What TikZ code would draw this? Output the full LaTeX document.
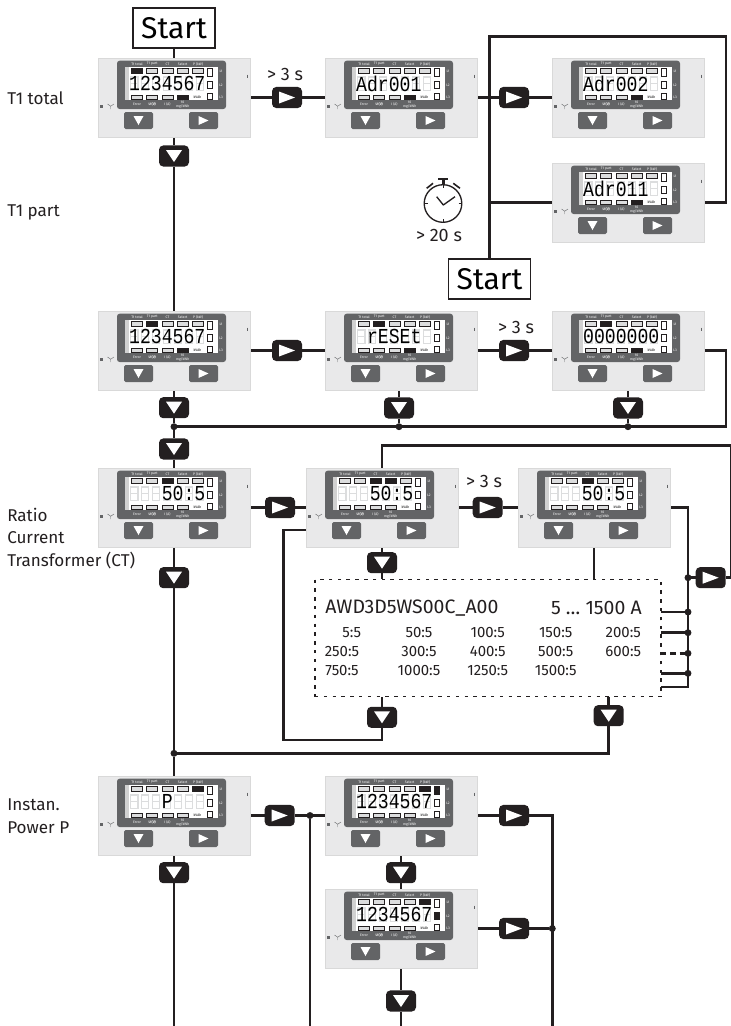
\documentclass[tikz,border=0pt]{standalone}
\usepackage{fontspec}
\setmainfont{Fira Sans}
\newfontfamily\segfont{Liberation Mono}
\pgfdeclarelayer{bg}
\pgfsetlayers{bg,main}
\definecolor{ink}{HTML}{231F20}
\definecolor{scr}{HTML}{636466}
\definecolor{pan}{HTML}{E9E9EA}
\definecolor{ghost}{HTML}{DCDDDE}
\tikzset{
  x=0.75pt,y=-0.75pt,
  panel/.style={rectangle,draw=black!15,fill=pan,line width=.5pt,minimum width=114pt,minimum height=59.25pt,inner sep=0,outer sep=0},
  conn/.style={line width=2.2pt,draw=ink,line join=miter},
  rbtn/.style={rectangle,rounded corners=3.2pt,fill=ink,minimum width=22.5pt,minimum height=15.8pt,inner sep=0,outer sep=0,
    path picture={\fill[white,sharp corners,shift={(path picture bounding box.center)}] (-8,-6) -- (8,0) -- (-8,6) -- cycle;}},
  dbtn/.style={rectangle,rounded corners=3.2pt,fill=ink,minimum width=22.5pt,minimum height=15.8pt,inner sep=0,outer sep=0,
    path picture={\fill[white,sharp corners,shift={(path picture bounding box.center)}] (-8,-6) -- (8,-6) -- (0,6) -- cycle;}},
  grb/.style={rectangle,rounded corners=1.2pt,fill=scr,minimum width=21.75pt,minimum height=12.75pt,inner sep=0,outer sep=0,
    path picture={\fill[white,sharp corners,shift={(path picture bounding box.center)}] (-5,-4.5) -- (5,0) -- (-5,4.5) -- cycle;}},
  gdb/.style={rectangle,rounded corners=1.2pt,fill=scr,minimum width=21.75pt,minimum height=12.75pt,inner sep=0,outer sep=0,
    path picture={\fill[white,sharp corners,shift={(path picture bounding box.center)}] (-5,-4.5) -- (5,-4.5) -- (0,4.5) -- cycle;}},
  startbox/.style={rectangle,draw=ink,fill=white,line width=1.3pt,minimum width=61.5pt,minimum height=30.5pt,inner sep=0,font=\fontsize{22.5}{24}\selectfont},
  dot/.style={circle,fill=ink,minimum size=5.2pt,inner sep=0,outer sep=0},
  label/.style={anchor=west,inner sep=0,font=\fontsize{12.8}{16.9}\selectfont,text=ink,align=left},
  wait/.style={inner sep=0,font=\fontsize{13.5}{14}\selectfont,text=ink},
  ratio/.style={inner sep=0,font=\fontsize{11.2}{12}\selectfont,text=ink},
  head/.style={inner sep=0,font=\fontsize{14.6}{15}\selectfont,text=ink},
  mini/.style={inner sep=0,font=\fontsize{2.6}{2.6}\selectfont},
  seg/.style={inner sep=0,anchor=west,text=black,font=\segfont\fontsize{16}{16}\selectfont},
  ind/.style={draw=ink,fill=ghost,line width=.55pt},
}
% name, x, y, lit top, lit bottom, lit L (1-3, 9 none), first digit index, text
\newcommand{\dev}[8]{%
  \node[panel,anchor=north west] (#1) at (#2,#3) {};
  \begin{scope}[shift={(#2,#3)}]
    \fill[scr,rounded corners=2pt] (19,2.7) rectangle (128,51);
    \fill[white] (27,9) rectangle (120,42);
    \fill[black!18] (27,9) rectangle (31,42);
    \foreach \i in {0,...,6}{
      \pgfmathsetmacro\gx{36.3+10.9*\i}
      \draw[ghost,line width=.9pt] (\gx-3.6,19) rectangle (\gx+3.6,32.5) (\gx-3.6,25.7) -- (\gx+3.6,25.7);
    }
    \foreach \i in {0,...,4}{
      \pgfmathsetmacro\gx{39+15.25*\i}
      \draw[ind] (\gx-5.5,10.5) rectangle (\gx+5.5,15.5);
    }
    \foreach \i in {0,...,3}{
      \pgfmathsetmacro\gx{39+15.25*\i}
      \draw[ind] (\gx-5.5,37) rectangle (\gx+5.5,41.5);
    }
    \foreach \i in {#4}{\ifnum\i<5 \pgfmathsetmacro\gx{39+15.25*\i}\fill[ink] (\gx-5.7,10.3) rectangle (\gx+5.7,15.7);\fi}
    \foreach \i in {#5}{\ifnum\i<5 \pgfmathsetmacro\gx{39+15.25*\i}\fill[ink] (\gx-5.7,36.8) rectangle (\gx+5.7,41.7);\fi}
    \draw[ink,fill=white,line width=.55pt] (109.5,10.5) rectangle (114.5,18);
    \draw[ink,fill=white,line width=.55pt] (109.5,23) rectangle (114.5,30.5);
    \draw[ink,fill=white,line width=.55pt] (109.5,35) rectangle (114.5,41);
    \ifnum#6=1 \fill[ink] (109.5,10.5) rectangle (114.5,18);\fi
    \ifnum#6=2 \fill[ink] (109.5,23) rectangle (114.5,30.5);\fi
    \pgfmathsetmacro\sx{36.3+10.9*#7-5.45}
    \node[seg] (#1txt) at (\sx,25.7) {\scalebox{0.851}[1]{#8}};
    \node[mini,text=white] (#1a) at (39,5.8) {T1 total};
    \node[mini,text=white] (#1b) at (54.2,5.8) {T1 part};
    \node[mini,text=white] (#1c) at (69.5,5.8) {CT};
    \node[mini,text=white] (#1d) at (84.7,5.8) {Select};
    \node[mini,text=white] (#1e) at (100,5.8) {P (kW)};
    \node[mini,text=white] (#1f) at (39,46.5) {Error};
    \node[mini,text=white] (#1g) at (54.2,46.5) {\textbf{U (V)}};
    \node[mini,text=white] (#1h) at (69.5,46.5) {I (A)};
    \node[mini,text=white,align=center] (#1i) at (84.7,46.5) {10\\mg/kWh};
    \node[mini,text=black] (#1j) at (99.5,39.2) {kVAh};
    \node[mini,text=white] (#1k) at (123,13.7) {L1};
    \node[mini,text=white] (#1l) at (123,27) {L2};
    \node[mini,text=white] (#1m) at (123,39) {L3};
    \node[gdb] (#1bl) at (40.5,62.5) {};
    \node[grb] (#1br) at (105.5,62.5) {};
    \fill[scr] (2.2,46.8) rectangle (5.2,49.8);
    \draw[scr,line width=.3pt] (9.5,46) -- (12.7,48.2) -- (16,46) (12.7,48.2) -- (12.7,51);
    \draw[scr,line width=.4pt] (149,16.5) -- (149,19.5);
  \end{scope}
}
\begin{document}
\begin{tikzpicture}
\useasboundingbox (0,0) rectangle (731,1026);
% devices
\dev{d1}{98}{58}{0}{3}{9}{0}{1234567}
\dev{d2}{325}{58}{9}{3}{9}{0}{Adr001}
\dev{d3}{552}{58}{9}{3}{9}{0}{Adr002}
\dev{d4}{552}{163}{9}{3}{9}{0}{Adr011}
\dev{d5}{98}{311}{1}{3}{9}{0}{1234567}
\dev{d6}{325}{311}{1}{3}{9}{1}{rESEt}
\dev{d7}{552}{311}{1}{3}{9}{0}{0000000}
\dev{d8}{98}{468}{2}{9}{9}{3}{50:5}
\dev{d9}{306}{468}{2,3}{9}{9}{3}{50:5}
\dev{d10}{518}{468}{2}{9}{9}{3}{50:5}
\dev{d11}{98}{776}{4}{9}{9}{3}{P}
\dev{d12}{325}{776}{4}{9}{1}{0}{1234567}
\dev{d13}{325}{889}{4}{9}{2}{0}{1234567}
% start boxes
\node[startbox] (s1) at (174,28) {Start};
\node[startbox] (s2) at (489.5,279) {Start};
% right buttons
\node[rbtn] (br1) at (287,97.5) {};
\node[rbtn] (br2) at (514,97.5) {};
\node[rbtn] (br3) at (287,350.5) {};
\node[rbtn] (br4) at (514,350.5) {};
\node[rbtn] (br5) at (280,507.5) {};
\node[rbtn] (br6) at (487.7,507.5) {};
\node[rbtn] (br7) at (710.7,577.7) {};
\node[rbtn] (br8) at (279.7,815.5) {};
\node[rbtn] (br9) at (514,815.5) {};
\node[rbtn] (br10) at (514,928.5) {};
% down buttons
\node[dbtn] (bd1) at (174,156) {};
\node[dbtn] (bd2) at (174,407.7) {};
\node[dbtn] (bd3) at (399,408) {};
\node[dbtn] (bd4) at (628,408) {};
\node[dbtn] (bd5) at (174,449) {};
\node[dbtn] (bd6) at (382,562.7) {};
\node[dbtn] (bd7) at (382,717.3) {};
\node[dbtn] (bd8) at (608.7,715.7) {};
\node[dbtn] (bd9) at (174,577.7) {};
\node[dbtn] (bd10) at (174,872.7) {};
\node[dbtn] (bd11) at (401,872.7) {};
\node[dbtn] (bd12) at (401,1001) {};
% dashed box
\node[rectangle,draw=ink,line width=1.2pt,dash pattern=on 2.6pt off 4pt,minimum width=259.5pt,minimum height=88pt,inner sep=0,outer sep=0] (box) at (488,638) {};
% junctions
\node[dot] (j1) at (174,426.7) {};
\node[dot] (j2) at (399,426.7) {};
\node[dot] (j3) at (628,426.7) {};
\node[dot] (j4) at (688,577.7) {};
\node[dot] (j5) at (688,612) {};
\node[dot] (j6) at (688,632.7) {};
\node[dot] (j7) at (688,653.3) {};
\node[dot] (j8) at (688,673.3) {};
\node[dot] (j9) at (174,753.3) {};
\node[dot] (j10) at (310,815.5) {};
\node[dot] (j11) at (552.3,928.5) {};
% free corner points
\coordinate (lp1) at (489.5,36.7);
\coordinate (lp2) at (726,36.7);
\coordinate (lp3) at (726,202.5);
\coordinate (lp4) at (489.5,202.5);
\coordinate (r1) at (726,350.5);
\coordinate (r2) at (726,426.7);
\coordinate (ta) at (382,445.3);
\coordinate (tb) at (731,445.3);
\coordinate (tc) at (731,577.7);
\coordinate (v1) at (688,507.5);
\coordinate (v2) at (688,687);
\coordinate (l1) at (306,530);
\coordinate (l2) at (283.3,530);
\coordinate (l3) at (283.3,740);
\coordinate (l4) at (382,740);
\coordinate (q) at (608.7,753.3);
\coordinate (e1) at (174,1026);
\coordinate (e2) at (310,1026);
\coordinate (e3) at (401,1026);
\coordinate (e4) at (552.3,1026);
\coordinate (e5) at (552.3,815.5);
\begin{pgfonlayer}{bg}
\draw[conn] (s1) -- (d1);
\draw[conn] (d1) -- (bd1) -- (d5);
\draw[conn] (d1) -- (br1) -- (d2) -- (br2) -- (d3);
\draw[conn] (s2) -- (lp1) -- (lp2) -- (lp3) -- (d4);
\draw[conn] (lp4) -- (d4);
\draw[conn] (d5) -- (br3) -- (d6) -- (br4) -- (d7);
\draw[conn] (d7) -- (r1) -- (r2) -- (j3) -- (j2) -- (j1);
\draw[conn] (d5) -- (bd2) -- (j1) -- (bd5) -- (d8);
\draw[conn] (bd3 |- d6.south) -- (bd3) -- (j2);
\draw[conn] (d7) -- (bd4) -- (j3);
\draw[conn] (d8) -- (br5) -- (d9) -- (br6) -- (d10);
\draw[conn] (d9) -- (bd6) -- (bd6 |- box.north);
\draw[conn] (d9) -- (ta) -- (tb) -- (tc) -- (br7) -- (j4);
\draw[conn] (d10) -- (v1) -- (v2) -- (box.east |- v2);
\draw[conn] (d10) -- (d10 |- box.north);
\draw[conn] (box.east |- j5) -- (j5);
\draw[conn] (box.east |- j6) -- (j6);
\draw[conn,dash pattern=on 4pt off 3pt] (box.east |- j7) -- (j7);
\draw[conn] (box.east |- j8) -- (j8);
\draw[conn] (l1) -- (l2) -- (l3) -- (l4) -- (bd7) -- (bd7 |- box.south);
\draw[conn] (bd8 |- box.south) -- (bd8) -- (q) -- (j9);
\draw[conn] (d8) -- (bd9) -- (j9) -- (d11);
\draw[conn] (d11) -- (br8) -- (j10) -- (d12);
\draw[conn] (j10) -- (e2);
\draw[conn] (d11) -- (bd10) -- (e1);
\draw[conn] (d12) -- (br9) -- (e5) -- (e4);
\draw[conn] (d13) -- (br10) -- (j11);
\draw[conn] (d12) -- (bd11) -- (d13);
\draw[conn] (d13) -- (bd12) -- (e3);
\end{pgfonlayer}
% left labels
\node[label] (t1) at (7,98) {T1 total};
\node[label] (t2) at (7,212) {T1 part};
\node[label] (t3) at (7,538.5) {Ratio\\Current\\Transformer (CT)};
\node[label] (t4) at (7,816) {Instan.\\Power P};
% wait labels
\node[wait] (w1) at (285,74) {> 3 s};
\node[wait] (w2) at (516,327) {> 3 s};
\node[wait] (w3) at (484,481.6) {> 3 s};
\node[wait] (w4) at (439,235) {> 20 s};
% stopwatch
\draw[ink,line width=1pt] (443,203.5) circle (18.8);
\draw[ink,line width=1pt,line join=round] (436.7,196.7) -- (443.3,205) -- (455,196.7);
\fill[ink] (438,178) rectangle (448,180.3);
\fill[ink] (441.5,180) rectangle (444.5,185);
\draw[ink,line width=1.2pt] (426.7,188.3) -- (433,183.3);
\draw[ink,line width=1.2pt] (453.3,183.3) -- (460,188.3);
\draw[ink,line width=.6pt] (443,185) -- (443,188) (443,219) -- (443,222) (424.5,203.5) -- (427.5,203.5) (458.5,203.5) -- (461.5,203.5);
% ratio table
\node[head,anchor=west] (h1) at (325,608) {AWD3D5WS00C\_A00};
\node[head,anchor=east] (h2) at (642,608) {5 … 1500 A};
\node[ratio] (c1) at (351.7,632.7) {5:5};
\node[ratio] (c2) at (419,632.7) {50:5};
\node[ratio] (c3) at (487.7,632.7) {100:5};
\node[ratio] (c4) at (555.7,632.7) {150:5};
\node[ratio] (c5) at (623.3,632.7) {200:5};
\node[ratio] (c6) at (342,651.7) {250:5};
\node[ratio] (c7) at (419,651.7) {300:5};
\node[ratio] (c8) at (487.7,651.7) {400:5};
\node[ratio] (c9) at (555.7,651.7) {500:5};
\node[ratio] (c10) at (623.3,651.7) {600:5};
\node[ratio] (c11) at (342,670.7) {750:5};
\node[ratio] (c12) at (419,670.7) {1000:5};
\node[ratio] (c13) at (487.7,670.7) {1250:5};
\node[ratio] (c14) at (555.7,670.7) {1500:5};
\end{tikzpicture}
\end{document}
